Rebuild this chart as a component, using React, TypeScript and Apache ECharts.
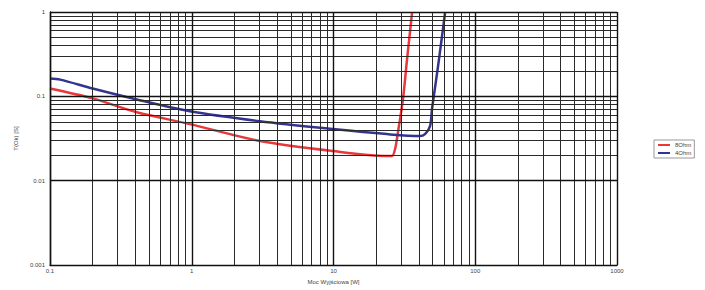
import React, { useEffect, useRef } from "react";
import * as echarts from "echarts";

const seriesNames = ["8Ohm", "4Ohm"];
const red8x = [0.1, 0.2, 0.41, 0.97, 3.03, 9.9, 23.8, 25.9, 27.2, 28.5, 30.9, 33.0, 35.8];
const red8y = [0.124, 0.0947, 0.0648, 0.0469, 0.0296, 0.0225, 0.0197, 0.0197, 0.0238, 0.0377, 0.092, 0.272, 0.97];
const blue4x = [0.1, 0.118, 0.2, 0.41, 0.97, 3.03, 9.9, 23.8, 40.7, 44.2, 48, 49.5, 54.6, 61.2];
const blue4y = [0.163, 0.158, 0.124, 0.092, 0.0667, 0.0508, 0.041, 0.0357, 0.0338, 0.0357, 0.0444, 0.0703, 0.225, 0.97];
const xTicks = [0.1, 1, 10, 100, 1000];
const yTicks = [0.001, 0.01, 0.1, 1];
const xAxisName = "Moc Wyjściowa [W]";
const yAxisName = "T(Ok) [S]";

function minorValues(decades: number[]): number[] {
  const out: number[] = [];
  for (let i = 0; i < decades.length - 1; i++) {
    for (let m = 2; m <= 9; m++) out.push(+(decades[i] * m).toPrecision(6));
  }
  return out;
}

export default function App() {
  const ref = useRef<HTMLDivElement>(null);
  useEffect(() => {
    if (!ref.current) return;
    const chart = echarts.init(ref.current, undefined, { renderer: "svg" });
    const minorX = minorValues(xTicks);
    const minorY = minorValues(yTicks);
    const gridLine = (c: string, w: number) => ({ color: c, width: w, type: "solid" as const });
    const markData: any[] = [];
    minorX.forEach((v) => markData.push({ xAxis: v, lineStyle: gridLine("#2a2a2a", 1) }));
    minorY.forEach((v) => markData.push({ yAxis: v, lineStyle: gridLine("#2a2a2a", 1) }));
    xTicks.forEach((v) => markData.push({ xAxis: v, lineStyle: gridLine("#111", 1.4) }));
    yTicks.forEach((v) => markData.push({ yAxis: v, lineStyle: gridLine("#111", 1.4) }));
    const font = "Liberation Sans, Arial, sans-serif";
    chart.setOption({
      animation: false,
      backgroundColor: "#fff",
      grid: { left: 50, top: 12, right: 88, bottom: 21, containLabel: false },
      legend: {
        data: seriesNames,
        orient: "vertical",
        left: 654,
        top: 140,
        itemWidth: 12,
        itemHeight: 2,
        itemGap: 2,
        padding: [2, 3],
        borderColor: "#999",
        borderWidth: 1,
        textStyle: { fontSize: 6, color: "#444", fontFamily: font },
      },
      xAxis: {
        type: "log",
        logBase: 10,
        min: 0.1,
        max: 1000,
        splitNumber: 4,
        name: xAxisName,
        nameLocation: "middle",
        nameGap: 9,
        nameTextStyle: { fontSize: 6, color: "#444", fontFamily: font },
        axisLine: { show: true, lineStyle: { color: "#111", width: 1.4 } },
        axisTick: { show: false },
        splitLine: { show: false },
        axisLabel: {
          fontSize: 6,
          color: "#444",
          fontFamily: font,
          margin: 3,
          formatter: (v: number) => String(+v.toPrecision(6)),
        },
      },
      yAxis: {
        type: "log",
        logBase: 10,
        min: 0.001,
        max: 1,
        splitNumber: 3,
        name: yAxisName,
        nameLocation: "middle",
        nameGap: 20,
        nameRotate: 90,
        nameTextStyle: { fontSize: 6, color: "#444", fontFamily: font },
        axisLine: { show: true, lineStyle: { color: "#111", width: 1.4 } },
        axisTick: { show: false },
        splitLine: { show: false },
        axisLabel: {
          fontSize: 6,
          color: "#444",
          fontFamily: font,
          margin: 5,
          formatter: (v: number) => String(+v.toPrecision(6)),
        },
      },
      series: [
        {
          name: "grid",
          type: "line",
          z: 1,
          data: [[0.1, 0.001]],
          symbol: "none",
          lineStyle: { opacity: 0 },
          silent: true,
          markLine: {
            silent: true,
            symbol: ["none", "none"],
            label: { show: false },
            animation: false,
            data: markData,
          },
        },
        {
          name: seriesNames[0],
          type: "line",
          z: 3,
          data: red8x.map((x, i) => [x, red8y[i]]),
          symbol: "none",
          smooth: 0.3,
          lineStyle: { color: "#e8383a", width: 2.5 },
          itemStyle: { color: "#e8383a" },
        },
        {
          name: seriesNames[1],
          type: "line",
          z: 3,
          data: blue4x.map((x, i) => [x, blue4y[i]]),
          symbol: "none",
          smooth: 0.3,
          lineStyle: { color: "#34348f", width: 2.5 },
          itemStyle: { color: "#34348f" },
        },
      ],
    });
    return () => chart.dispose();
  }, []);
  return <div ref={ref} style={{ width: 705, height: 290, position: "absolute", left: 0, top: 0 }} />;
}
